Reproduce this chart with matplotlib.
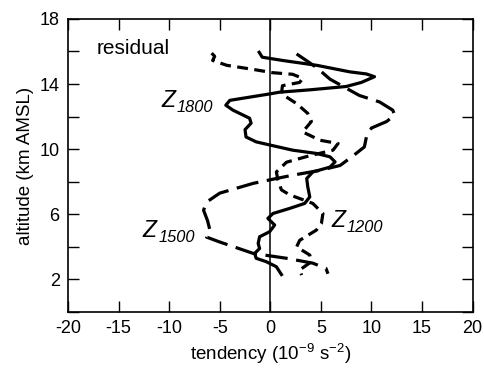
import matplotlib.pyplot as plt

plt.rcParams["font.family"] = ["Liberation Sans", "DejaVu Sans"]
plt.rcParams["axes.unicode_minus"] = False
plt.rcParams["mathtext.fontset"] = "custom"
plt.rcParams["mathtext.rm"] = "Liberation Sans"
plt.rcParams["mathtext.it"] = "Liberation Sans:italic"

# altitude (km AMSL) and residual tendency (1e-9 s^-2)
z1800_x = [-1.1, -0.8, 1.2, 4.6, 7.85, 9.5, 10.3, 9.0, 7.5, 4.0, 0.9, 0.0, -2.0, -4.0,
           -4.4, -3.7, -2.05, -1.9, -2.5, -2.4, -1.4, 0.0, 2.2, 4.55, 5.9, 6.4, 5.9,
           4.2, 3.6, 3.7, 3.9, 3.4, 1.9, 0.26, -0.24, 0.43, -0.07, -1.06, -1.2, -1.06,
           -1.55, -1.4, -0.4, 0.6, 1.1]
z1800_y = [15.95, 15.65, 15.45, 15.15, 14.75, 14.62, 14.45, 14.1, 13.85, 13.65, 13.5,
           13.4, 13.2, 13.0, 12.7, 12.4, 11.9, 11.6, 11.2, 10.75, 10.45, 10.25, 9.94,
           9.74, 9.53, 9.22, 8.9, 8.6, 8.2, 7.7, 7.07, 6.67, 6.36, 6.05, 5.75, 5.34,
           4.93, 4.62, 4.21, 3.9, 3.6, 3.3, 3.09, 2.78, 2.3]

z1500_x = [2.6, 3.9, 4.6, 5.9, 7.2, 8.8, 10.8, 12.1, 12.3, 11.5, 10.0, 9.5, 9.3, 8.2,
           6.9, 4.9, 2.2, 0.6, -1.7, -5.0, -6.3, -6.6, -6.2, -6.0, -6.3, -5.0, -1.7,
           1.6, 4.2, 5.5, 5.7]
z1500_y = [15.85, 15.3, 15.0, 14.3, 13.85, 13.3, 12.9, 12.4, 12.1, 11.7, 11.3, 10.75,
           10.14, 9.6, 9.0, 8.7, 8.4, 8.2, 7.9, 7.3, 6.75, 6.25, 5.6, 5.1, 4.6, 4.3,
           3.6, 3.3, 3.0, 2.68, 2.35]

z1200_x = [-5.8, -5.5, -5.7, -4.3, -1.7, 0.2, 2.2, 3.2, 2.9, 1.2, 1.1, 2.6, 3.7, 4.06,
           3.2, 4.9, 6.7, 6.2, 3.9, 1.6, 0.6, 0.75, 1.1, 1.9, 4.2, 5.2, 5.05, 4.55,
           2.9, 2.6, 3.9, 4.06, 2.9, 3.1]
z1200_y = [15.9, 15.7, 15.45, 15.15, 14.9, 14.7, 14.6, 14.35, 14.1, 13.9, 13.4, 12.8,
           12.2, 11.7, 11.06, 10.55, 10.35, 9.94, 9.6, 9.2, 8.6, 8.1, 7.5, 7.2, 6.67,
           6.05, 5.44, 5.03, 4.4, 4.0, 3.5, 3.09, 2.58, 2.27]

xticks = [-20, -15, -10, -5, 0, 5, 10, 15, 20]
yticks = [2, 6, 10, 14, 18]


def z_label(ax, x, y, sub):
    ax.text(x, y, "Z", fontsize=16.5, style="italic")
    ax.annotate(sub, (x, y), xytext=(11.0, -3.6), textcoords="offset points",
                fontsize=11.8, style="italic")


fig = plt.figure(figsize=(4.84, 3.71), dpi=100)
ax = fig.add_axes([0.1405, 0.159, 0.836, 0.790])

ax.axvline(0, color="black", lw=1.1, zorder=1)
ax.plot(z1800_x, z1800_y, color="black", lw=2.3, solid_joinstyle="round")
ax.plot(z1500_x, z1500_y, color="black", lw=2.3, dashes=(7, 2.7))
ax.plot(z1200_x, z1200_y, color="black", lw=2.3, dashes=(3.4, 2.0))

ax.set_xlim(-20, 20)
ax.set_ylim(0, 18)
ax.set_xticks(xticks)
ax.set_yticks(yticks)
ax.set_yticks(range(0, 19, 2), minor=True)
ax.tick_params(which="both", direction="in", length=8, width=1, top=True, right=True,
               labelsize=13, pad=6)
for s in ax.spines.values():
    s.set_linewidth(1.2)

ax.set_xlabel(r"tendency (10$^{\mathregular{-9}}$ s$^{\mathregular{-2}}$)", fontsize=13.5,
              labelpad=3)
ax.set_ylabel("altitude (km AMSL)", fontsize=13.5, labelpad=4)

ax.text(-17.2, 15.87, "residual", fontsize=15)
z_label(ax, -10.8, 12.6, "1800")
z_label(ax, -12.6, 4.62, "1500")
z_label(ax, 6.04, 5.23, "1200")

fig.savefig("out.png", dpi=100)
